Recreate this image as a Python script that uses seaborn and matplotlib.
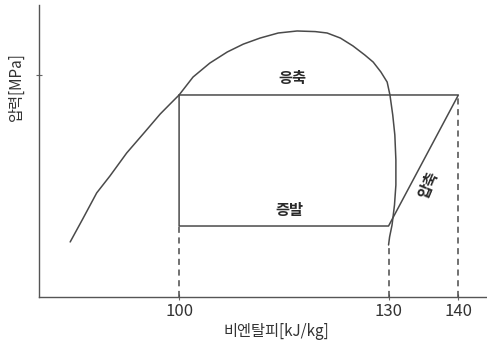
import numpy as np
import pandas as pd
import matplotlib
matplotlib.use("Agg")
import matplotlib.pyplot as plt
import seaborn as sns

sns.set_theme(style="white")
plt.rcParams['font.family'] = ['Noto Sans CJK KR', 'DejaVu Sans']

# saturation dome (enthalpy kJ/kg, pressure arbitrary units)
dome_h = [84.4, 86.2, 88.2, 90.1, 92.5, 95.1, 97.3, 98.7, 100.0, 102.0, 104.4,
          106.9, 109.2, 111.6, 114.2, 116.9, 119.5, 121.2, 123.1, 124.9, 126.6,
          127.8, 128.9, 129.8, 130.2, 130.6, 130.9, 131.05, 131.05, 130.85,
          130.5, 130.15, 130.0]
dome_p = [0.272, 0.386, 0.515, 0.599, 0.713, 0.817, 0.906, 0.955, 1.000, 1.089, 1.158,
          1.213, 1.252, 1.282, 1.307, 1.317, 1.314, 1.307, 1.282, 1.243, 1.198,
          1.163, 1.114, 1.064, 1.000, 0.901, 0.802, 0.678, 0.554, 0.455,
          0.356, 0.297, 0.257]

# refrigeration cycle
h_evap_in, h_evap_out, h_comp_out = 100, 130, 140
p_cond, p_evap = 1.0, 0.351

xticks = [100, 130, 140]

fig = plt.figure(figsize=(4.87, 3.53), dpi=100)
ax = fig.add_axes([0.080, 0.159, 0.92, 0.827])

line_col = "#4a4a4a"
lw = 1.1

sns.lineplot(x=dome_h, y=dome_p, sort=False, estimator=None, ax=ax, color=line_col, lw=lw)

cycle = pd.DataFrame({
    "h": [h_evap_in, h_comp_out, h_evap_out, h_evap_in, h_evap_in],
    "p": [p_cond, p_cond, p_evap, p_evap, p_cond],
})
sns.lineplot(data=cycle, x="h", y="p", sort=False, estimator=None, ax=ax,
             color=line_col, lw=lw)

# dashed drop lines to the axis
dash = (0, (4, 3))
ax.plot([h_evap_in, h_evap_in], [0, p_evap], color=line_col, lw=lw, ls=dash)
ax.plot([h_evap_out, h_evap_out], [0, dome_p[-1]], color=line_col, lw=lw, ls=dash)
ax.plot([h_comp_out, h_comp_out], [0, p_cond], color=line_col, lw=lw, ls=dash)

txt_kw = dict(ha="center", va="center", fontsize=11, color="#2a2a2a", fontweight="bold")
ax.text(116.2, 1.084, "응축", **txt_kw)
ax.text(115.8, 0.431, "증발", **txt_kw)
ax.text(135.7, 0.554, "압축", rotation=67, **txt_kw)

ax.set_xlim(79.93, 144.1)
ax.set_ylim(0, 1.446)
ax.set_xticks(xticks)
ax.set_xticklabels([str(t) for t in xticks], fontsize=12, color="#333333")
ax.set_yticks([1.1])
ax.set_yticklabels([""])
ax.tick_params(axis="both", direction="inout", length=5, width=0.8, color="#666666",
               bottom=True, left=True, pad=2)

for side in ["top", "right"]:
    ax.spines[side].set_visible(False)
for side in ["left", "bottom"]:
    ax.spines[side].set_color("#555555")
    ax.spines[side].set_linewidth(1.0)

ax.set_xlabel("비엔탈피[kJ/kg]", fontsize=11, color="#333333", fontweight="medium")
ax.xaxis.set_label_coords(0.531, -0.089)
ax.set_ylabel("압력[MPa]", fontsize=11, color="#333333", fontweight="medium")
ax.yaxis.set_label_coords(-0.031, 0.719)

fig.savefig("out.png", dpi=100)
